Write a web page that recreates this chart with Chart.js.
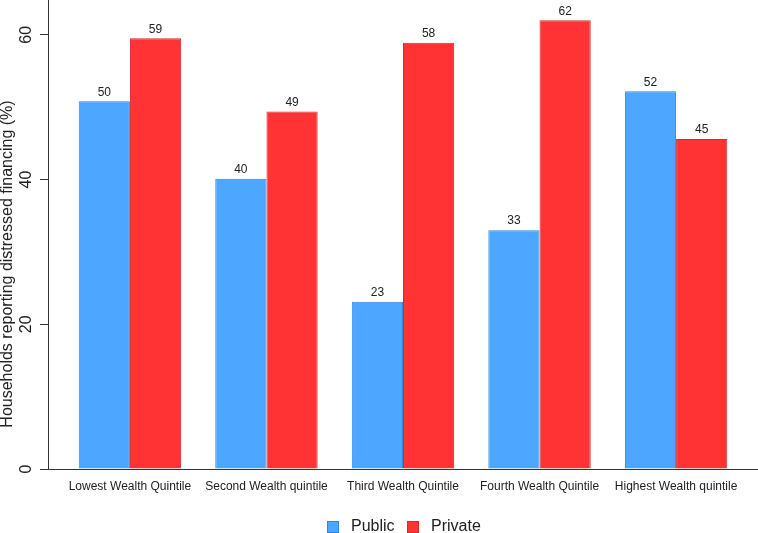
<!DOCTYPE html>
<html>
<head>
<meta charset="utf-8">
<script src="https://cdn.jsdelivr.net/npm/chart.js@4.4.1/dist/chart.umd.min.js"></script>
<style>
  html, body { margin: 0; padding: 0; background: #fff; }
  #wrap { width: 758px; height: 533px; }
</style>
</head>
<body>
<div id="wrap"><canvas id="chart" width="758" height="533"></canvas></div>
<script>
const categories = [
    'Lowest Wealth Quintile',
    'Second Wealth quintile',
    'Third Wealth Quintile',
    'Fourth Wealth Quintile',
    'Highest Wealth quintile',
]
const publicShare = [50.8, 40.1, 23.1, 33.0, 52.2]
const privateShare = [59.5, 49.4, 58.9, 62.0, 45.6]
const yTicks = [0, 20, 40, 60]
const yTitle = 'Households reporting distressed financing (%)'

const FONT = "'Liberation Sans', Arial, Helvetica, sans-serif"
const TEXT = '#222'
const AXIS = '#333'
const blue = { fill: '#4DA6FF', line: '#2B87E3' }
const red = { fill: '#FF3333', line: '#D42A2E' }

const toPoints = (vals) => vals.map((v, i) => ({ x: i + 1, y: v }))

const noPad = (s) => {
    s.paddingTop = 0
    s.paddingBottom = 0
    s.paddingLeft = 0
    s.paddingRight = 0
}

// value labels above the bars (shown truncated, as in the source graph)
const barLabels = {
    id: 'barLabels',
    afterDatasetsDraw(chart) {
        const { ctx } = chart
        ctx.save()
        ctx.font = `12px ${FONT}`
        ctx.fillStyle = TEXT
        ctx.textAlign = 'center'
        ctx.textBaseline = 'bottom'
        chart.data.datasets.forEach((ds, di) => {
            chart.getDatasetMeta(di).data.forEach((bar, i) => {
                ctx.fillText(String(Math.floor(ds.data[i].y)), bar.x, bar.y - 3)
            })
        })
        ctx.restore()
    },
}

// y title and legend drawn by hand to sit where the original has them
const extras = {
    id: 'extras',
    afterDraw(chart) {
        const { ctx } = chart
        ctx.save()
        ctx.translate(8, 264)
        ctx.rotate(-Math.PI / 2)
        ctx.font = `16px ${FONT}`
        ctx.fillStyle = TEXT
        ctx.textAlign = 'center'
        ctx.textBaseline = 'middle'
        ctx.fillText(yTitle, 0, 0)
        ctx.restore()

        ctx.save()
        ctx.font = `16px ${FONT}`
        ctx.textBaseline = 'middle'
        const items = [
            { x: 327, text: 'Public', c: blue },
            { x: 407, text: 'Private', c: red },
        ]
        items.forEach((it) => {
            ctx.fillStyle = it.c.fill
            ctx.fillRect(it.x, 521, 12, 12)
            ctx.strokeStyle = it.c.line
            ctx.lineWidth = 1
            ctx.strokeRect(it.x + 0.5, 521.5, 11, 11)
            ctx.fillStyle = TEXT
            ctx.fillText(it.text, it.x + 24, 527)
        })
        ctx.restore()
    },
}

new Chart(document.getElementById('chart').getContext('2d'), {
    type: 'bar',
    data: {
        datasets: [
            {
                label: 'Public',
                data: toPoints(publicShare),
                backgroundColor: blue.fill,
                borderColor: blue.line,
                borderWidth: 1,
            },
            {
                label: 'Private',
                data: toPoints(privateShare),
                backgroundColor: red.fill,
                borderColor: red.line,
                borderWidth: 1,
            },
        ],
    },
    options: {
        responsive: false,
        animation: false,
        devicePixelRatio: 1,
        categoryPercentage: 0.75,
        barPercentage: 1,
        layout: { padding: 0 },
        plugins: {
            legend: { display: false },
            tooltip: { enabled: false },
        },
        scales: {
            x: {
                type: 'linear',
                min: 0.4,
                max: 5.6,
                offset: false,
                afterBuildTicks: (s) => {
                    s.ticks = categories.map((_, i) => ({ value: i + 1 }))
                },
                afterFit: (s) => {
                    s.height = 64
                    noPad(s)
                },
                grid: { display: false, drawTicks: false, offset: false },
                border: { display: true, color: AXIS, width: 1 },
                ticks: {
                    autoSkip: false,
                    maxRotation: 0,
                    padding: 10,
                    color: TEXT,
                    font: { family: FONT, size: 12 },
                    callback: (v) => categories[v - 1] || '',
                },
            },
            y: {
                min: 0,
                max: 64.8,
                afterBuildTicks: (s) => {
                    s.ticks = yTicks.map((v) => ({ value: v }))
                },
                afterFit: (s) => {
                    s.width = 48
                    noPad(s)
                },
                grid: {
                    display: true,
                    drawOnChartArea: false,
                    drawTicks: true,
                    tickLength: 8,
                    color: AXIS,
                },
                border: { display: true, color: AXIS, width: 1 },
                ticks: {
                    minRotation: 90,
                    maxRotation: 90,
                    crossAlign: 'center',
                    padding: 5,
                    color: TEXT,
                    font: { family: FONT, size: 16 },
                },
            },
        },
    },
    plugins: [barLabels, extras],
})
</script>
</body>
</html>
